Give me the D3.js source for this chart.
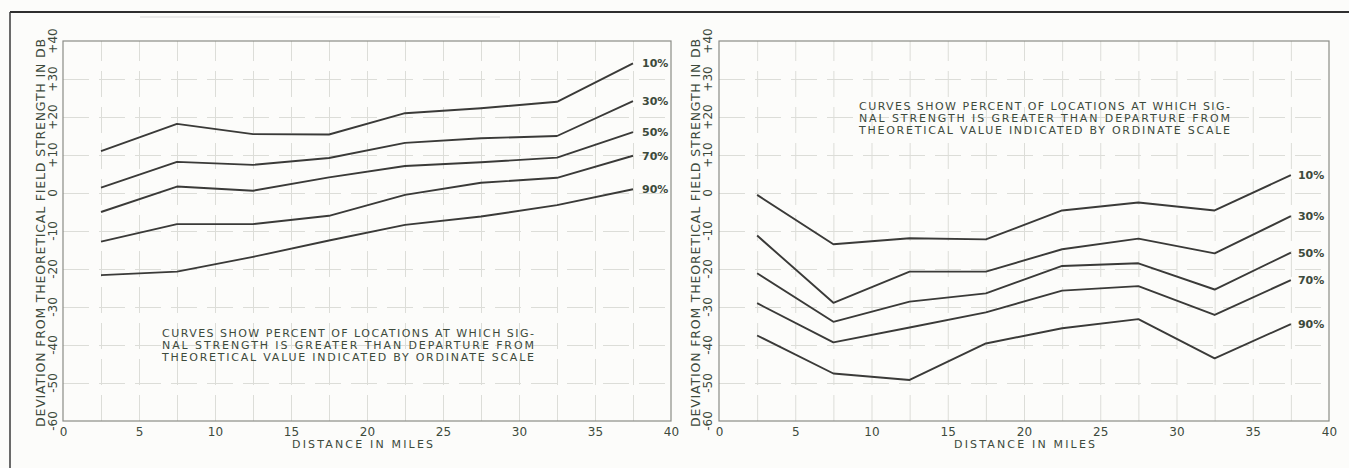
<!DOCTYPE html>
<html><head><meta charset="utf-8">
<script src="https://cdn.jsdelivr.net/npm/d3@7/dist/d3.min.js"></script>
<style>
html,body{margin:0;padding:0;background:#fcfcfa;}
svg{display:block;}
text{font-family:"DejaVu Sans","Liberation Sans",sans-serif;fill:#3d4a3c;}
</style></head>
<body>
<svg id="c" width="1349" height="468"></svg>
<script>
const distances = [2.5, 7.5, 12.5, 17.5, 22.5, 27.5, 32.5, 37.5];
const seriesNames = ["10%", "30%", "50%", "70%", "90%"];
const leftValues = [
  [11, 18.2, 15.5, 15.4, 21, 22.3, 24, 34.1],
  [1.4, 8.2, 7.4, 9.2, 13.2, 14.4, 15, 24.2],
  [-5, 1.7, 0.6, 4.1, 7.1, 8.1, 9.3, 16],
  [-12.8, -8.2, -8.2, -6, -0.5, 2.7, 4, 9.8],
  [-21.6, -20.7, -16.8, -12.5, -8.4, -6.2, -3.2, 1]
];
const rightValues = [
  [-0.5, -13.5, -11.9, -12.2, -4.6, -2.5, -4.6, 4.7],
  [-11.2, -28.9, -20.7, -20.7, -14.8, -12, -15.9, -6.1],
  [-21.1, -33.9, -28.6, -26.4, -19.2, -18.5, -25.4, -15.7],
  [-29, -39.3, -35.4, -31.4, -25.7, -24.5, -32.1, -22.9],
  [-37.5, -47.5, -49.2, -39.6, -35.6, -33.2, -43.5, -34.5]
];
const xTicks = [0, 5, 10, 15, 20, 25, 30, 35, 40];
const xGridTicks = [2.5, 5, 7.5, 10, 12.5, 15, 17.5, 20, 22.5, 25, 27.5, 30, 32.5, 35, 37.5];
const yTicks = [40, 30, 20, 10, 0, -10, -20, -30, -40, -50, -60];
const yTickLabels = ["+40", "+30", "+20", "+10", "0", "-10", "-20", "-30", "-40", "-50", "-60"];
const yTitle = "DEVIATION FROM THEORETICAL FIELD STRENGTH IN DB";
const xTitle = "DISTANCE IN MILES";
const noteLines = [
  "CURVES SHOW PERCENT OF LOCATIONS AT WHICH SIG-",
  "NAL STRENGTH IS GREATER THAN DEPARTURE FROM",
  "THEORETICAL VALUE INDICATED BY ORDINATE SCALE"
];

const svg = d3.select("#c");

// outer frame
svg.append("line").attr("x1", 10).attr("x2", 1349).attr("y1", 12).attr("y2", 12)
  .attr("stroke", "#2f2f2f").attr("stroke-width", 2);
svg.append("line").attr("x1", 10).attr("x2", 10).attr("y1", 12).attr("y2", 468)
  .attr("stroke", "#3a3a3a").attr("stroke-width", 1.5);
svg.append("line").attr("x1", 140).attr("x2", 500).attr("y1", 17).attr("y2", 17)
  .attr("stroke", "#d8d8d8").attr("stroke-width", 1);

function panel(cfg) {
  const x = d3.scaleLinear().domain([0, 40]).range([cfg.x0, cfg.x1]);
  const y = d3.scaleLinear().domain([-60, 40]).range([421, 41]);
  const g = svg.append("g");

  // grid
  const gx = g.append("g").attr("transform", `translate(0,${y(-60)})`)
    .call(d3.axisBottom(x).tickValues(xGridTicks).tickSize(-(y(-60) - y(40))).tickFormat(""));
  gx.select(".domain").remove();
  gx.selectAll("line").attr("stroke", "#dcddd8").attr("stroke-width", 1).attr("stroke-dasharray", "26,10");
  const gy = g.append("g").attr("transform", `translate(${x(0)},0)`)
    .call(d3.axisLeft(y).tickValues(yTicks.slice(1, -1)).tickSize(-(x(40) - x(0))).tickFormat(""));
  gy.select(".domain").remove();
  gy.selectAll("line").attr("stroke", "#dcddd8").attr("stroke-width", 1).attr("stroke-dasharray", "26,10");

  // plot frame
  g.append("rect").attr("x", x(0)).attr("y", y(40)).attr("width", x(40) - x(0)).attr("height", y(-60) - y(40))
    .attr("fill", "none").attr("stroke", "#8a8c86").attr("stroke-width", 1.2);

  // x axis labels
  const ax = g.append("g").attr("transform", `translate(0,${y(-60)})`)
    .call(d3.axisBottom(x).tickValues(xTicks).tickSize(0).tickPadding(6).tickFormat(d3.format("d")));
  ax.select(".domain").remove();
  ax.selectAll("text").style("font-size", "12px").attr("fill", "#3d4a3c");

  // y axis labels (rotated)
  const ay = g.append("g").attr("transform", `translate(${cfg.tickX},0)`)
    .call(d3.axisLeft(y).tickValues(yTicks).tickSize(0).tickFormat((d, i) => yTickLabels[i]));
  ay.select(".domain").remove();
  ay.selectAll("text").attr("x", 0).attr("dy", 0)
    .attr("transform", "rotate(-90)")
    .attr("text-anchor", "middle").attr("dominant-baseline", "central")
    .style("font-size", "12px").attr("fill", "#3d4a3c");
  ay.selectAll(".tick").attr("transform", d => `translate(0,${y(d)})`);

  // y title
  g.append("text").attr("transform", `translate(${cfg.titleX},${(y(40) + y(-60)) / 2 + 2}) rotate(-90)`)
    .attr("text-anchor", "middle").attr("dominant-baseline", "central")
    .attr("textLength", 388).attr("lengthAdjust", "spacing")
    .style("font-size", "12.5px").text(yTitle);

  // x title
  g.append("text").attr("x", cfg.xTitleX).attr("y", 448).attr("textLength", 141).attr("lengthAdjust", "spacing")
    .style("font-size", "11px").text(xTitle);

  // curves
  const line = d3.line().x((d, i) => x(distances[i])).y(d => y(d));
  cfg.values.forEach((vals, si) => {
    g.append("path").datum(vals).attr("d", line)
      .attr("fill", "none").attr("stroke", "#3a3a38").attr("stroke-width", 1.9).attr("stroke-linejoin", "round");
    g.append("text").attr("x", x(distances[distances.length - 1]) + cfg.labelDx).attr("y", y(vals[vals.length - 1]) + 4)
      .style("font-size", "11px").style("font-weight", "bold").attr("fill", "#3d3d3a").text(seriesNames[si]);
  });

  // note
  noteLines.forEach((t, i) => {
    g.append("text").attr("x", cfg.noteX).attr("y", cfg.noteY + i * 11.8)
      .attr("textLength", cfg.noteW).attr("lengthAdjust", "spacing")
      .style("font-size", "11px").attr("fill", "#333").text(t);
  });
  return {x, y, g};
}

panel({x0: 63, x1: 671, tickX: 53, titleX: 40, xTitleX: 292, values: leftValues, labelDx: 9,
  noteX: 162, noteY: 337, noteW: 372});
panel({x0: 719, x1: 1329, tickX: 708, titleX: 695, xTitleX: 954, values: rightValues, labelDx: 7,
  noteX: 859, noteY: 110, noteW: 371});
</script>
</body></html>
